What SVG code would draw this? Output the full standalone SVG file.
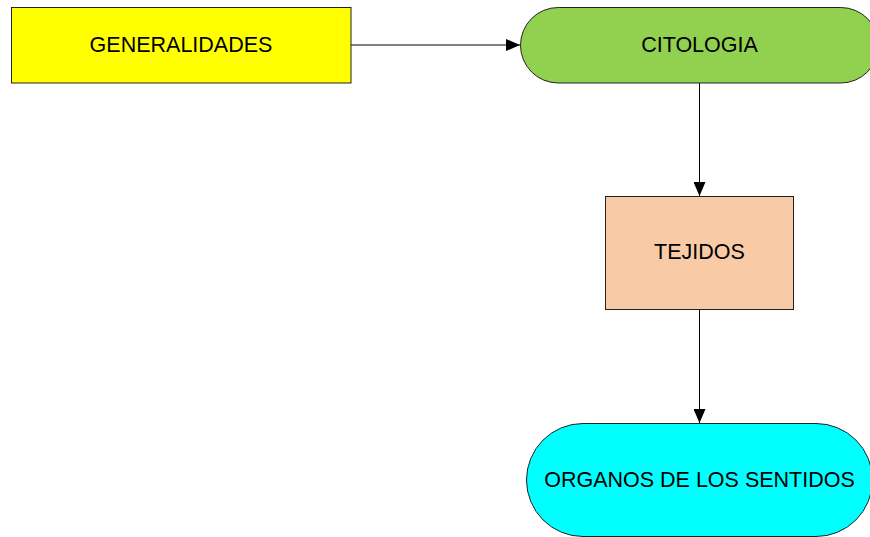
<svg xmlns="http://www.w3.org/2000/svg" width="870" height="537" viewBox="0 0 870 537">
<style>
.n{stroke:#222;stroke-width:1}
.t{font-family:"Liberation Sans",Arial,sans-serif;font-size:21.5px;fill:#000;text-anchor:middle}
.c{stroke:#000;stroke-width:1;fill:none;marker-end:url(#ah)}
</style>
<defs>
<marker id="ah" markerWidth="14" markerHeight="12" refX="14" refY="6" orient="auto" markerUnits="userSpaceOnUse">
<path d="M0,0 L14,6 L0,12 Z" fill="#000"/>
</marker>
</defs>
<rect width="870" height="537" fill="#fff"/>
<g id="connectors">
<path class="c" d="M351,45 H520"/>
<path class="c" d="M699.5,83 V196"/>
<path class="c" d="M699.5,309.5 V423"/>
</g>
<g id="generalidades">
<rect class="n" x="11.5" y="7.5" width="339.5" height="75.5" fill="#ffff00"/>
<text class="t" x="181" y="52">GENERALIDADES</text>
</g>
<g id="citologia">
<rect class="n" x="520.5" y="7.5" width="358" height="75.5" rx="37.75" fill="#92d050"/>
<text class="t" x="699.5" y="52">CITOLOGIA</text>
</g>
<g id="tejidos">
<rect class="n" x="605.5" y="196.5" width="188" height="113" fill="#f8cba6"/>
<text class="t" x="699.5" y="259">TEJIDOS</text>
</g>
<g id="organos">
<rect class="n" x="526.5" y="423.5" width="346" height="113" rx="56.5" fill="#00ffff"/>
<text class="t" x="699.5" y="486.5">ORGANOS DE LOS SENTIDOS</text>
</g>
</svg>
